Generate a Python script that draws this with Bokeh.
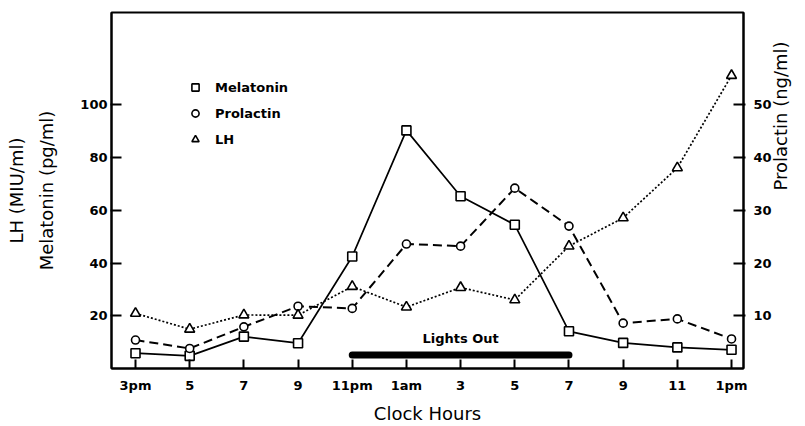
import math
from bokeh.plotting import figure
from bokeh.models import Range1d, LinearAxis, FixedTicker, Legend, LegendItem
from bokeh.embed import file_html
from bokeh.resources import INLINE
from bokeh.core.properties import value

# ---- data ----
hour_labels = ["3pm", "5", "7", "9", "11pm", "1am", "3", "5", "7", "9", "11", "1pm"]
melatonin = [5.8, 4.8, 12.1, 9.6, 42.5, 90.3, 65.3, 54.5, 14.1, 9.7, 8.0, 7.1]   # pg/ml
prolactin = [5.4, 3.8, 7.9, 11.8, 11.4, 23.6, 23.2, 34.2, 27.0, 8.6, 9.4, 5.6]   # ng/ml
lh = [20.9, 14.9, 20.3, 20.2, 31.1, 23.3, 30.7, 26.0, 46.4, 57.1, 76.1, 111.1]   # MIU/ml
left_ticks = [20, 40, 60, 80, 100]
right_ticks = [10, 20, 30, 40, 50]
lights_out = [4, 8]          # from 11pm to 7am (category positions)
lights_label = "Lights Out"

x = list(range(len(hour_labels)))
FONT = "DejaVu Sans"

p = figure(width=805, height=426, output_backend="svg", toolbar_location=None,
           title=None,
           x_range=Range1d(-0.443, 11.221), y_range=Range1d(0, 135),
           min_border_left=111, min_border_right=62,
           min_border_top=12, min_border_bottom=58)
p.extra_y_ranges = {"prl": Range1d(0, 67.5)}
p.xgrid.visible = False
p.ygrid.visible = False
p.outline_line_color = "black"
p.outline_line_width = 2
p.background_fill_color = "white"
p.border_fill_color = "white"

def style_axis(ax):
    ax.axis_line_width = 2
    ax.axis_line_color = "black"
    ax.major_tick_line_width = 2
    ax.major_tick_line_color = "black"
    ax.minor_tick_line_color = None
    ax.major_label_text_font = FONT
    ax.major_label_text_font_style = "bold"
    ax.major_label_text_font_size = "13px"
    ax.major_label_text_color = "black"
    ax.axis_label_text_font = FONT
    ax.axis_label_text_font_style = "normal"
    ax.axis_label_text_font_size = "18px"
    ax.axis_label_text_color = "black"

# bottom axis
xa = p.xaxis[0]
style_axis(xa)
xa.ticker = FixedTicker(ticks=x)
xa.major_label_overrides = {i: s for i, s in enumerate(hour_labels)}
xa.major_tick_in = 9
xa.major_tick_out = 0
xa.major_label_standoff = 9
xa.axis_label = "Clock Hours"
xa.axis_label_standoff = 7

# left axis
ya = p.yaxis[0]
style_axis(ya)
ya.ticker = FixedTicker(ticks=left_ticks)
ya.major_tick_in = 10
ya.major_tick_out = 1
ya.major_label_standoff = 3
ya.axis_label = "Melatonin (pg/ml)"
ya.axis_label_standoff = 20

# second left label (LH)
lh_axis = LinearAxis(ticker=FixedTicker(ticks=[]))
style_axis(lh_axis)
lh_axis.axis_line_color = None
lh_axis.major_tick_line_color = None
lh_axis.major_tick_in = 0
lh_axis.major_tick_out = 0
lh_axis.major_label_standoff = 0
lh_axis.axis_label = "LH (MIU/ml)"
lh_axis.axis_label_standoff = 7
p.add_layout(lh_axis, "left")

# right axis (prolactin)
ra = LinearAxis(y_range_name="prl", ticker=FixedTicker(ticks=right_ticks))
style_axis(ra)
ra.major_tick_in = 10
ra.major_tick_out = 2
ra.major_label_standoff = 8
ra.axis_label = "Prolactin (ng/ml)"
ra.axis_label_standoff = 6
try:
    ra.axis_label_orientation = math.pi / 2
except AttributeError:
    pass
p.add_layout(ra, "right")

# series lines
p.line(x, melatonin, line_color="black", line_width=1.7)
p.line(x, prolactin, y_range_name="prl", line_color="black", line_width=2, line_dash="9 5")
p.line(x, lh, line_color="black", line_width=1.7, line_dash="2 2")

# markers
sq = p.scatter(x, melatonin, marker="square", size=9, fill_color="white",
               line_color="black", line_width=1.6)
ci = p.scatter(x, prolactin, y_range_name="prl", marker="circle", size=8,
               fill_color="white", line_color="black", line_width=1.6)
tr = p.scatter(x, lh, marker="triangle", size=10, fill_color="white",
               line_color="black", line_width=1.6)

# lights-out bar
p.line(lights_out, [5.1, 5.1], line_color="black", line_width=7, line_cap="round")
p.text(x=[sum(lights_out) / 2], y=[11.2], text=[lights_label],
       text_align="center", text_baseline="middle",
       text_font=value(FONT), text_font_style="bold", text_font_size="13px",
       text_color="black")

legend = Legend(items=[LegendItem(label="Melatonin", renderers=[sq]),
                       LegendItem(label="Prolactin", renderers=[ci]),
                       LegendItem(label="LH", renderers=[tr])],
                location=(75, 220), orientation="vertical",
                background_fill_alpha=0, border_line_color=None,
                padding=0, margin=0, spacing=8,
                glyph_height=18, glyph_width=18, label_height=18,
                label_standoff=11,
                label_text_font=FONT, label_text_font_style="bold",
                label_text_font_size="13px", label_text_color="black")
p.add_layout(legend)

open("out.html", "w").write(file_html(p, INLINE))
